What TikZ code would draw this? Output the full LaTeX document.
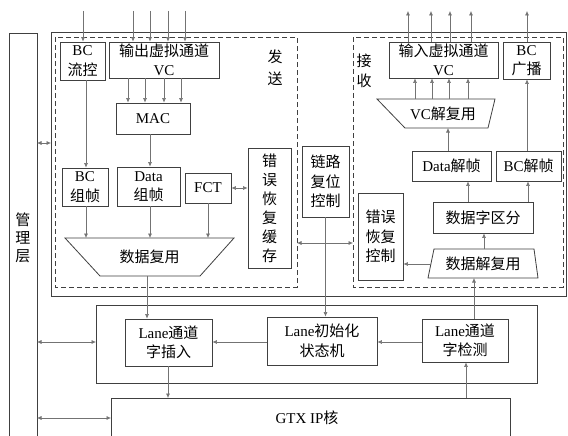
\documentclass[tikz,border=0pt]{standalone}
\usepackage{fontspec}
\setmainfont{Liberation Serif}
\newfontfamily\cjk{Noto Sans CJK SC}
\newcommand{\C}[1]{{\cjk #1}}
\usetikzlibrary{arrows.meta}
\begin{document}
\begin{tikzpicture}[x=1pt,y=-1pt,
  every node/.style={font=\fontsize{15}{19.5}\selectfont},
  blk/.style={draw=black!75,line width=0.8pt,inner sep=0pt,align=center},
  frame/.style={draw=black!75,line width=0.8pt},
  dframe/.style={draw=black!75,line width=0.8pt,dash pattern=on 5pt off 3pt},
  con/.style={draw=black!55,line width=0.6pt,-{Latex[length=4.5pt,width=4pt]}},
  bicon/.style={draw=black!55,line width=0.6pt,{Latex[length=4.5pt,width=4pt]}-{Latex[length=4.5pt,width=4pt]}},
  lbl/.style={align=center,inner sep=0pt}]
\useasboundingbox (0,0) rectangle (568,436);
\fill[white] (0,0) rectangle (568,436);
% frames
\draw[frame] (9,33) rectangle (37,440);
\node[lbl,font=\fontsize{15}{18}\selectfont] (mgmtlbl) at (23,238) {\C{管}\\\C{理}\\\C{层}};
\draw[frame] (51,32) rectangle (566,296);
\draw[dframe] (55,37) rectangle (297,287);
\draw[dframe] (353,37) rectangle (563,287);
\draw[frame] (96,305) rectangle (537,383);
\draw[frame] (111,398) rectangle (510,440);
\node[lbl] (gtxlbl) at (307,418) {GTX IP\C{核}};
\coordinate (mgmtR) at (37,0);
\coordinate (outerL) at (51,0);
\coordinate (midL) at (96,0);
\coordinate (gtxL) at (111,0);
\coordinate (gtxT) at (0,398);
\coordinate (sendR) at (297,0);
\coordinate (recvL) at (353,0);
\node[lbl,font=\fontsize{15}{22}\selectfont] (sendlbl) at (275,68) {\C{发}\\\C{送}};
\node[lbl,font=\fontsize{15}{20}\selectfont] (recvlbl) at (364,71) {\C{接}\\\C{收}};
% send side
\node[blk,minimum width=45pt,minimum height=38pt] (bcfc) at (82.5,61) {BC\\\C{流控}};
\node[blk,minimum width=110pt,minimum height=36pt] (ovc) at (164,60) {\C{输出虚拟通道}\\VC};
\node[blk,minimum width=74pt,minimum height=31pt] (mac) at (153,118.5) {MAC};
\node[blk,minimum width=46pt,minimum height=38pt] (bcfr) at (85,187) {BC\\\C{组帧}};
\node[blk,minimum width=63pt,minimum height=39pt] (dfr) at (148.5,186.5) {Data\\\C{组帧}};
\node[blk,minimum width=46pt,minimum height=30pt] (fct) at (208,188) {FCT};
\node[blk,minimum width=43pt,minimum height=120pt,font=\fontsize{15}{19}\selectfont] (erb) at (269.5,208) {\C{错}\\\C{误}\\\C{恢}\\\C{复}\\\C{缓}\\\C{存}};
\draw[frame] (65,238) -- (234,238) -- (200,276) -- (100,276) -- cycle;
\node[lbl] (mux) at (149.5,257) {\C{数据复用}};
\coordinate (muxT) at (0,238);
\coordinate (muxB) at (147,276);
% middle
\node[blk,minimum width=47pt,minimum height=71pt] (lrc) at (325.5,181.5) {\C{链路}\\\C{复位}\\\C{控制}};
\node[blk,minimum width=87pt,minimum height=47pt] (lins) at (168.5,342.5) {Lane\C{通道}\\\C{字插入}};
\node[blk,minimum width=110pt,minimum height=48pt] (linit) at (322,341) {Lane\C{初始化}\\\C{状态机}};
\node[blk,minimum width=86pt,minimum height=43pt] (ldet) at (465,340.5) {Lane\C{通道}\\\C{字检测}};
% receive side
\node[blk,minimum width=109pt,minimum height=36pt] (ivc) at (443.5,60) {\C{输入虚拟通道}\\VC};
\node[blk,minimum width=47pt,minimum height=37pt] (bcb) at (526.5,60.5) {BC\\\C{广播}};
\draw[frame] (377,99) -- (495,99) -- (488,128) -- (405,128) -- cycle;
\node[lbl] (vcdm) at (443,113.5) {VC\C{解复用}};
\coordinate (vcdmT) at (0,99);
\coordinate (vcdmB) at (0,128);
\node[blk,minimum width=79pt,minimum height=30pt] (ddf) at (451.5,166) {Data\C{解帧}};
\node[blk,minimum width=65pt,minimum height=30pt] (bdf) at (528.5,166) {BC\C{解帧}};
\node[blk,minimum width=100pt,minimum height=31pt] (dws) at (483,217.5) {\C{数据字区分}};
\draw[frame] (434,249) -- (534,249) -- (538,278) -- (428,278) -- cycle;
\node[lbl] (dmux) at (483,263.5) {\C{数据解复用}};
\coordinate (dmuxT) at (0,249);
\coordinate (dmuxB) at (0,278);
\coordinate (dmuxL) at (431,264);
\node[blk,minimum width=45pt,minimum height=87pt] (erc) at (380.5,236.5) {\C{错误}\\\C{恢复}\\\C{控制}};
% inputs
\foreach \x/\n in {83/a,133/b,150/c,168/d,185/e} {\coordinate (in\n) at (\x,11);}
\draw[con] (ina) -- (ina |- bcfc.north);
\foreach \n in {b,c,d,e} {\draw[con] (in\n) -- (in\n |- ovc.north);}
\foreach \x in {128,145,164,181} {\draw[con] (ovc.south -| \x,0) -- (mac.north -| \x,0);}
\draw[con] (mac.south -| 150,0) -- (dfr.north -| 150,0);
\draw[con] (bcfc.south -| 86,0) -- (bcfr.north -| 86,0);
\draw[con] (bcfr.south -| 86,0) -- (muxT -| 86,0);
\draw[con] (dfr.south -| 150,0) -- (muxT -| 150,0);
\draw[con] (fct.south) -- (muxT -| fct.south);
\draw[bicon] (fct.east) -- (erb.west |- fct.east);
\draw[con] (muxB) -- (lins.north -| muxB);
\draw[con] (lins.south -| 168,0) -- (gtxT -| 168,0);
\draw[con] (lrc.south) -- (linit.north -| lrc.south);
\draw[bicon] (sendR |- 0,243) -- (recvL |- 0,243);
\draw[con] (linit.west |- 0,342) -- (lins.east |- 0,342);
\draw[con] (ldet.west |- 0,342) -- (linit.east |- 0,342);
\draw[con] (gtxT -| 466,0) -- (ldet.south -| 466,0);
\draw[con] (ldet.north -| 474,0) -- (dmuxB -| 474,0);
\draw[con] (dmuxL) -- (erc.east |- dmuxL);
\draw[con] (dmuxT -| 484,0) -- (dws.south -| 484,0);
\draw[con] (dws.north -| 468,0) -- (ddf.south -| 468,0);
\draw[con] (dws.north -| 528,0) -- (bdf.south -| 528,0);
\draw[con] (ddf.north -| 448,0) -- (vcdmB -| 448,0);
\foreach \x in {415,432,449,468} {\draw[con] (vcdmT -| \x,0) -- (ivc.south -| \x,0);}
\draw[con] (bdf.north -| 527,0) -- (bcb.south -| 527,0);
\foreach \x/\n in {408/a,431/b,450/c,471/d,527/e} {\coordinate (out\n) at (\x,11);}
\foreach \n in {a,b,c,d} {\draw[con] (ivc.north -| out\n) -- (out\n);}
\draw[con] (bcb.north -| oute) -- (oute);
% management links
\draw[bicon] (mgmtR |- 0,143) -- (outerL |- 0,143);
\draw[bicon] (mgmtR |- 0,342) -- (midL |- 0,342);
\draw[bicon] (mgmtR |- 0,418) -- (gtxL |- 0,418);
\end{tikzpicture}
\end{document}
